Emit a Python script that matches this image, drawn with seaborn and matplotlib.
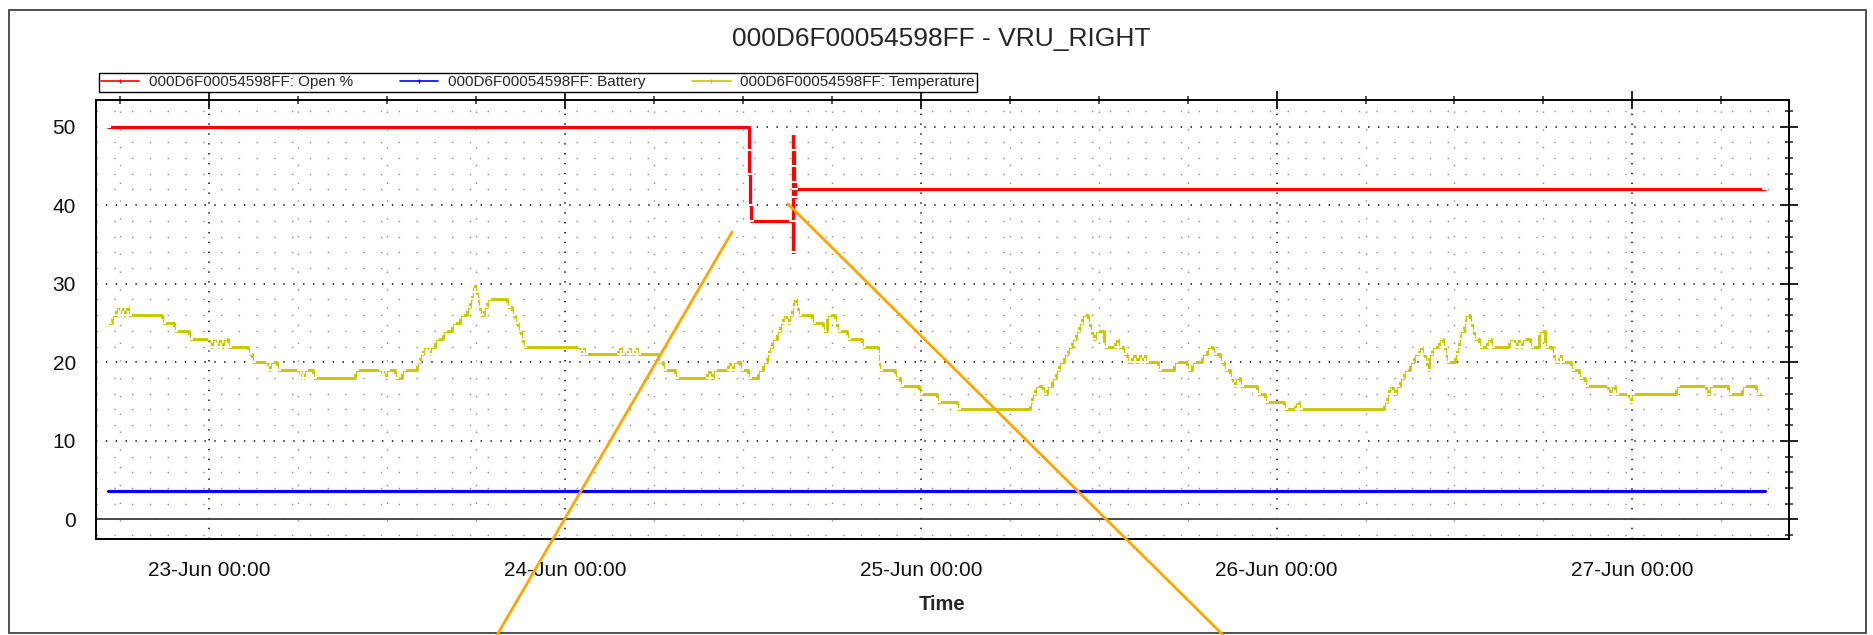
import matplotlib
matplotlib.use("Agg")
import matplotlib.pyplot as plt
import matplotlib.dates as mdates
from matplotlib.lines import Line2D
from matplotlib.patches import Rectangle
from matplotlib.ticker import MultipleLocator
import pandas as pd
import seaborn as sns

# ---------------------------------------------------------------- data
device = "000D6F00054598FF"
title = f"{device} - VRU_RIGHT"
day0 = pd.Timestamp("2023-06-23 00:00")          # hours below are counted from here

series_names = [f"{device}: Open %", f"{device}: Battery", f"{device}: Temperature"]
series_colors = ["#ff0000", "#0000ff", "#c8c800"]

open_hours = [-6.86, 36.40, 36.44, 36.48, 36.52, 39.33, 39.35, 39.38, 39.41,
              39.44, 39.47, 39.50, 39.53, 104.97]
open_values = [50, 47, 44, 40, 38, 38, 34, 49, 47, 45, 43, 41, 42, 42]

battery_hours = [-6.86, 104.97]
battery_values = [3.6, 3.6]

temp_hours = [
    -6.81, -6.59, -6.32, -6.03, -5.95, -5.80, -5.72, -5.46, -3.21, -2.36,
    -1.35, 0.05, 0.20, 0.50, 0.60, 0.79, 0.90, 1.28, 2.63, 2.86,
    3.98, 4.10, 4.55, 6.12, 6.20, 6.30, 6.41, 7.02, 9.83, 11.63,
    11.72, 11.81, 11.90, 12.53, 12.98, 13.99, 14.22, 14.44, 14.80, 14.90,
    15.23, 15.79, 16.35, 16.91, 17.37, 17.59, 17.70, 17.82, 17.93, 18.04,
    18.15, 18.27, 18.50, 18.70, 20.10, 20.40, 20.65, 20.85, 21.00, 21.19,
    25.00, 25.12, 25.30, 27.60, 27.75, 28.27, 28.40, 28.72, 28.85, 30.30,
    30.63, 31.42, 33.56, 33.80, 34.00, 35.02, 35.20, 35.35, 35.81, 36.37,
    37.04, 37.38, 37.61, 37.77, 37.95, 38.28, 38.51, 38.73, 38.96, 39.12,
    39.30, 39.41, 39.57, 39.70, 40.65, 41.43, 41.66, 42.22, 42.33, 43.01,
    44.02, 45.10, 45.14, 45.20, 46.27, 46.60, 47.90, 49.10, 50.43, 55.38,
    55.53, 55.71, 56.21, 56.50, 56.84, 57.11, 57.34, 57.63, 57.90, 58.19,
    58.46, 58.69, 58.87, 59.31, 59.43, 59.58, 59.72, 60.33, 61.11, 61.29,
    61.61, 61.90, 62.24, 62.42, 62.65, 62.87, 63.02, 63.14, 63.99, 65.05,
    65.95, 66.29, 66.96, 67.30, 67.68, 68.20, 68.42, 68.87, 69.05, 69.21,
    69.55, 70.67, 71.23, 72.47, 73.26, 73.48, 79.22, 79.45, 79.56, 79.85,
    80.05, 80.34, 80.57, 81.02, 81.24, 81.58, 81.81, 82.03, 82.14, 82.30,
    82.48, 82.93, 83.20, 83.33, 83.43, 84.05, 84.17, 84.28, 84.39, 84.62,
    84.73, 85.07, 85.18, 85.29, 85.67, 86.19, 86.48, 87.65, 88.06, 88.20,
    88.44, 88.56, 89.12, 89.68, 90.08, 90.58, 90.69, 91.03, 91.21, 91.88,
    92.42, 92.78, 94.36, 94.58, 94.81, 95.75, 95.93, 98.95, 100.97, 101.15,
    102.46, 103.40, 104.37, 104.98,
]
temp_values = [
    25, 26, 27, 26, 27, 26, 27, 26, 25, 24,
    23, 22, 23, 22, 23, 22, 23, 22, 21, 20,
    19, 20, 19, 18, 19, 18, 19, 18, 19, 18,
    19, 18, 19, 18, 19, 20, 21, 22, 21, 22,
    23, 24, 25, 26, 27, 28, 29, 30, 29, 28,
    27, 26, 27, 28, 27, 26, 25, 24, 23, 22,
    21, 22, 21, 22, 21, 22, 21, 22, 21, 20,
    19, 18, 19, 18, 19, 20, 19, 20, 19, 18,
    19, 20, 21, 22, 23, 24, 25, 26, 25, 26,
    27, 28, 27, 26, 25, 24, 26, 25, 24, 23,
    22, 21, 20, 19, 18, 17, 16, 15, 14, 15,
    16, 17, 16, 17, 18, 19, 20, 21, 22, 23,
    24, 25, 26, 25, 24, 23, 24, 22, 23, 22,
    21, 20, 21, 20, 21, 20, 21, 20, 19, 20,
    19, 20, 21, 22, 21, 20, 19, 18, 17, 18,
    17, 16, 15, 14, 15, 14, 15, 16, 17, 16,
    17, 18, 19, 20, 21, 22, 21, 20, 19, 21,
    22, 23, 22, 21, 20, 21, 22, 23, 24, 25,
    26, 25, 24, 23, 22, 23, 22, 23, 22, 23,
    22, 23, 22, 24, 22, 21, 20, 21, 20, 19,
    18, 17, 16, 17, 16, 15, 16, 17, 16, 17,
    16, 17, 16, 16,
]

y_major_step = 10
y_minor_step = 2
y_limits = (-2.5, 53.45)
x_limit_hours = (-7.645, 106.57)

# ---------------------------------------------------------------- style
W, H = 1874, 635
sns.set_style("white")
plt.rcParams["font.family"] = ["Liberation Sans", "DejaVu Sans"]
plt.rcParams["lines.scale_dashes"] = False


def to_time(hours):
    return day0 + pd.to_timedelta(pd.Series(hours, dtype=float), unit="h")


fig = plt.figure(figsize=(W / 100, H / 100), dpi=100)
ax = fig.add_axes([96 / W, 1 - 539 / H, (1789 - 96) / W, (539 - 99.5) / H])

# ---------------------------------------------------------------- series
sns.lineplot(x=to_time(temp_hours), y=temp_values, ax=ax, sort=False, estimator=None,
             color=series_colors[2], lw=2.1, drawstyle="steps-post",
             marker="+", markersize=5.5, markeredgewidth=1.3, zorder=3)
sns.lineplot(x=to_time(battery_hours), y=battery_values, ax=ax, sort=False, estimator=None,
             color=series_colors[1], lw=2.3, drawstyle="steps-post", zorder=4)
sns.lineplot(x=to_time(open_hours), y=open_values, ax=ax, sort=False, estimator=None,
             color=series_colors[0], lw=2.3, drawstyle="steps-post",
             marker="_", markersize=5, markeredgewidth=1.5, zorder=5)

ax.axhline(0, color="#4a4a4a", lw=1.4, zorder=2)

# ---------------------------------------------------------------- axes
ax.set_ylim(*y_limits)
ax.set_xlim(day0 + pd.Timedelta(hours=x_limit_hours[0]),
            day0 + pd.Timedelta(hours=x_limit_hours[1]))
ax.yaxis.set_major_locator(MultipleLocator(y_major_step))
ax.yaxis.set_minor_locator(MultipleLocator(y_minor_step))
ax.xaxis.set_major_locator(mdates.DayLocator())
ax.xaxis.set_minor_locator(mdates.HourLocator(byhour=[0, 6, 12, 18]))
ax.xaxis.set_major_formatter(mdates.DateFormatter("%d-%b %H:%M"))

ax.grid(which="major", color="black", linestyle=(0, (1.0, 6.1)), linewidth=1.1)
ax.grid(which="minor", color="#8a8a8a", linestyle=(0, (1.0, 11.8)), linewidth=1.0)
ax.set_axisbelow(True)

ax.tick_params(which="major", direction="inout", length=13, width=1.3,
               top=True, right=True, labelsize=15, colors="#111111")
ax.tick_params(axis="y", which="major", pad=8)
ax.tick_params(axis="x", which="major", pad=9)
ax.tick_params(which="minor", direction="inout", length=6, width=1.1,
               top=True, right=True)
for side in ["left", "right", "top", "bottom"]:
    ax.spines[side].set_color("black")
    ax.spines[side].set_linewidth(1.4)

ax.set_ylabel("")
ax.set_xlabel("Time", fontsize=14.5, fontweight="bold")
ax.xaxis.set_label_coords(0.5, -0.148)
ax.xaxis.label.set_verticalalignment("center")

# ---------------------------------------------------------------- legend
handles = [Line2D([], [], color=c, lw=1.2, marker="|", markersize=3.5,
                  markeredgewidth=1.0) for c in series_colors]
leg = ax.legend(handles, series_names, loc="upper left", ncol=3,
                bbox_to_anchor=(99 / W, 1 - 73 / H), bbox_transform=fig.transFigure,
                frameon=True, fancybox=False, edgecolor="black", framealpha=1,
                fontsize=11, handlelength=2.5, handletextpad=0.6,
                columnspacing=3.1, borderpad=0.15, borderaxespad=0)
leg.get_frame().set_linewidth(1.0)

# ---------------------------------------------------------------- title, frame, callout lines
fig.text(941 / W, 1 - 39 / H, title, fontsize=19, ha="center", va="center")
fig.add_artist(Rectangle((9 / W, 1 - 633 / H), (1866 - 9) / W, (633 - 10) / H,
                         transform=fig.transFigure, fill=False,
                         edgecolor="#333333", lw=1.2))
for (x1, y1), (x2, y2) in [((732, 232), (497, 635)), ((788, 204), (1223, 635))]:
    fig.add_artist(Line2D([x1 / W, x2 / W], [1 - y1 / H, 1 - y2 / H],
                          transform=fig.transFigure, color="#ffa500", lw=2.0,
                          zorder=10))

fig.savefig("out.png", dpi=100)
